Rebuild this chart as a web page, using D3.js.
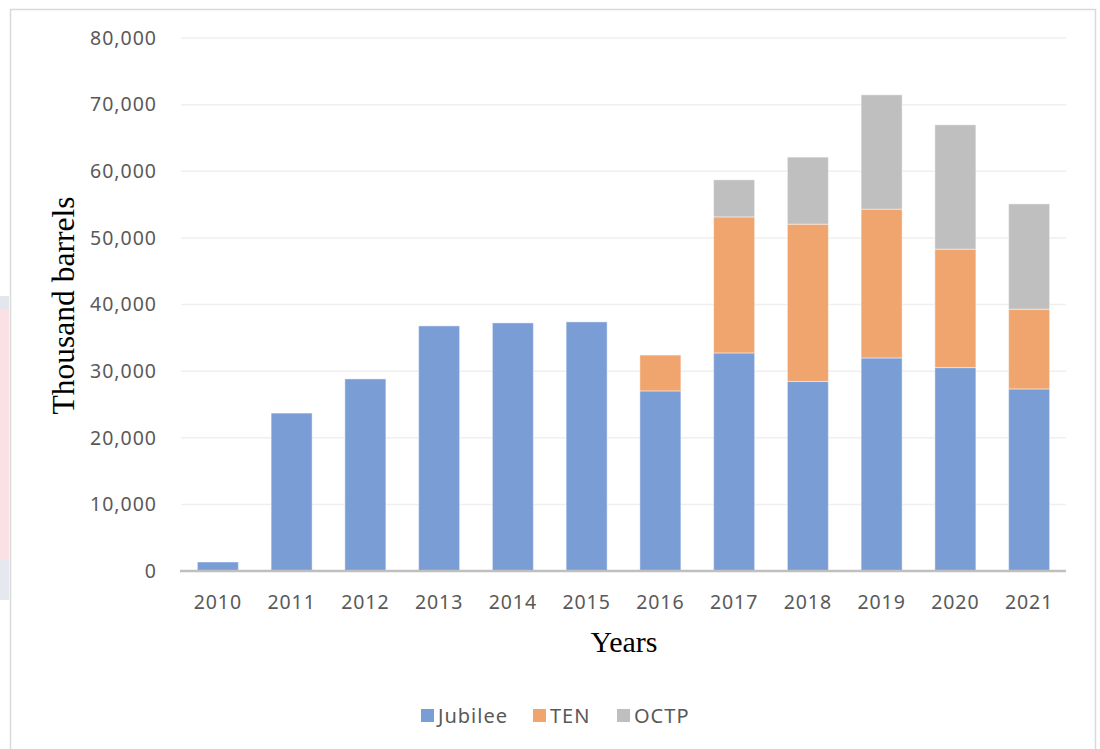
<!DOCTYPE html>
<html lang="en">
<head>
  <meta charset="utf-8">
  <title>Oil production by field</title>
  <script src="https://d3js.org/d3.v7.min.js"></script>
  <style>
    html, body { margin: 0; padding: 0; background: #fff; overflow: hidden; }
    svg { display: block; }
  </style>
</head>
<body>
  <svg width="1100" height="749"></svg>
  <script>
    // data (thousand barrels)
    const years = ["2010", "2011", "2012", "2013", "2014", "2015", "2016", "2017", "2018", "2019", "2020", "2021"];
    const jubilee = [1350, 23700, 28830, 36790, 37240, 37390, 27030, 32730, 28450, 31980, 30530, 27330];
    const ten     = [0, 0, 0, 0, 0, 0, 5380, 20420, 23610, 22330, 17770, 11960];
    const octp    = [0, 0, 0, 0, 0, 0, 0, 5560, 10060, 17160, 18670, 15810];
    const seriesNames = ["Jubilee", "TEN", "OCTP"];
    const seriesColors = ["#7b9dd6", "#f0a46e", "#bfbfbf"];
    const yTicks = [0, 10000, 20000, 30000, 40000, 50000, 60000, 70000, 80000];

    const svg = d3.select("svg");

    // faint page bits left of the chart frame
    svg.append("rect").attr("x", 0).attr("y", 296).attr("width", 9).attr("height", 14).attr("fill", "#e4e6ee");
    svg.append("rect").attr("x", 0).attr("y", 310).attr("width", 9).attr("height", 250).attr("fill", "#fbe1e3");
    svg.append("rect").attr("x", 0).attr("y", 560).attr("width", 9).attr("height", 40).attr("fill", "#e6e8f0");

    // chart frame
    svg.append("rect")
      .attr("x", 10.5).attr("y", 9.5)
      .attr("width", 1085).attr("height", 760)
      .attr("fill", "#fff")
      .attr("stroke", "#d9d9d9")
      .attr("stroke-width", 1.5);

    const plotLeft = 181, plotRight = 1066, plotTop = 38, plotBottom = 571;

    const x = d3.scaleBand()
      .domain(years)
      .range([plotLeft, plotRight])
      .paddingInner(0.444)
      .paddingOuter(0.222);

    const y = d3.scaleLinear()
      .domain([0, 80000])
      .range([plotBottom, plotTop]);

    // gridlines
    svg.append("g")
      .selectAll("line")
      .data(yTicks.slice(1))
      .enter()
      .append("line")
      .attr("x1", plotLeft).attr("x2", plotRight)
      .attr("y1", d => y(d)).attr("y2", d => y(d))
      .attr("stroke", "#efefef")
      .attr("stroke-width", 1.5);

    // stacked bars
    const rows = years.map((yr, i) => ({ year: yr, Jubilee: jubilee[i], TEN: ten[i], OCTP: octp[i] }));
    const stacked = d3.stack().keys(seriesNames)(rows);

    svg.append("g")
      .selectAll("g")
      .data(stacked)
      .enter()
      .append("g")
      .attr("fill", (d, i) => seriesColors[i])
      .selectAll("rect")
      .data(d => d.filter(p => p[1] - p[0] > 0))
      .enter()
      .append("rect")
      .attr("x", d => x(d.data.year))
      .attr("width", x.bandwidth())
      .attr("y", d => y(d[1]))
      .attr("height", d => y(d[0]) - y(d[1]))
      .attr("stroke", "rgba(255,255,255,0.45)")
      .attr("stroke-width", 1);

    // baseline
    svg.append("line")
      .attr("x1", plotLeft - 1).attr("x2", plotRight)
      .attr("y1", plotBottom).attr("y2", plotBottom)
      .attr("stroke", "#bfbfbf")
      .attr("stroke-width", 2.5);

    // y tick labels
    const fmt = d3.format(",");
    svg.append("g")
      .selectAll("text")
      .data(yTicks)
      .enter()
      .append("text")
      .attr("x", 157)
      .attr("y", d => y(d))
      .attr("dy", "0.35em")
      .attr("text-anchor", "end")
      .attr("font-family", "'Noto Sans', sans-serif")
      .attr("font-size", 19.5)
      .attr("letter-spacing", 1)
      .attr("fill", "#595959")
      .text(d => fmt(d));

    // x tick labels
    svg.append("g")
      .selectAll("text")
      .data(years)
      .enter()
      .append("text")
      .attr("x", d => x(d) + x.bandwidth() / 2)
      .attr("y", 609)
      .attr("text-anchor", "middle")
      .attr("font-family", "'Noto Sans', sans-serif")
      .attr("font-size", 19.5)
      .attr("letter-spacing", 0.9)
      .attr("fill", "#595959")
      .text(d => d);

    // axis titles
    svg.append("text")
      .attr("transform", "translate(74," + ((plotTop + plotBottom) / 2 + 1) + ") rotate(-90)")
      .attr("text-anchor", "middle")
      .attr("font-family", "'Liberation Serif', 'Times New Roman', serif")
      .attr("font-size", 31.5)
      .attr("fill", "#000")
      .text("Thousand barrels");

    svg.append("text")
      .attr("x", 624)
      .attr("y", 652)
      .attr("text-anchor", "middle")
      .attr("font-family", "'Liberation Serif', 'Times New Roman', serif")
      .attr("font-size", 30)
      .attr("fill", "#000")
      .text("Years");

    // legend
    const legendX = [421, 533, 617];
    const legend = svg.append("g")
      .selectAll("g")
      .data(seriesNames)
      .enter()
      .append("g")
      .attr("transform", (d, i) => "translate(" + legendX[i] + ",709)");

    legend.append("rect")
      .attr("width", 13).attr("height", 13)
      .attr("fill", (d, i) => seriesColors[i]);

    legend.append("text")
      .attr("x", 17)
      .attr("y", 6.5)
      .attr("dy", "0.36em")
      .attr("font-family", "'Noto Sans', sans-serif")
      .attr("font-size", 20)
      .attr("letter-spacing", 1)
      .attr("fill", "#595959")
      .text(d => d);
  </script>
</body>
</html>
